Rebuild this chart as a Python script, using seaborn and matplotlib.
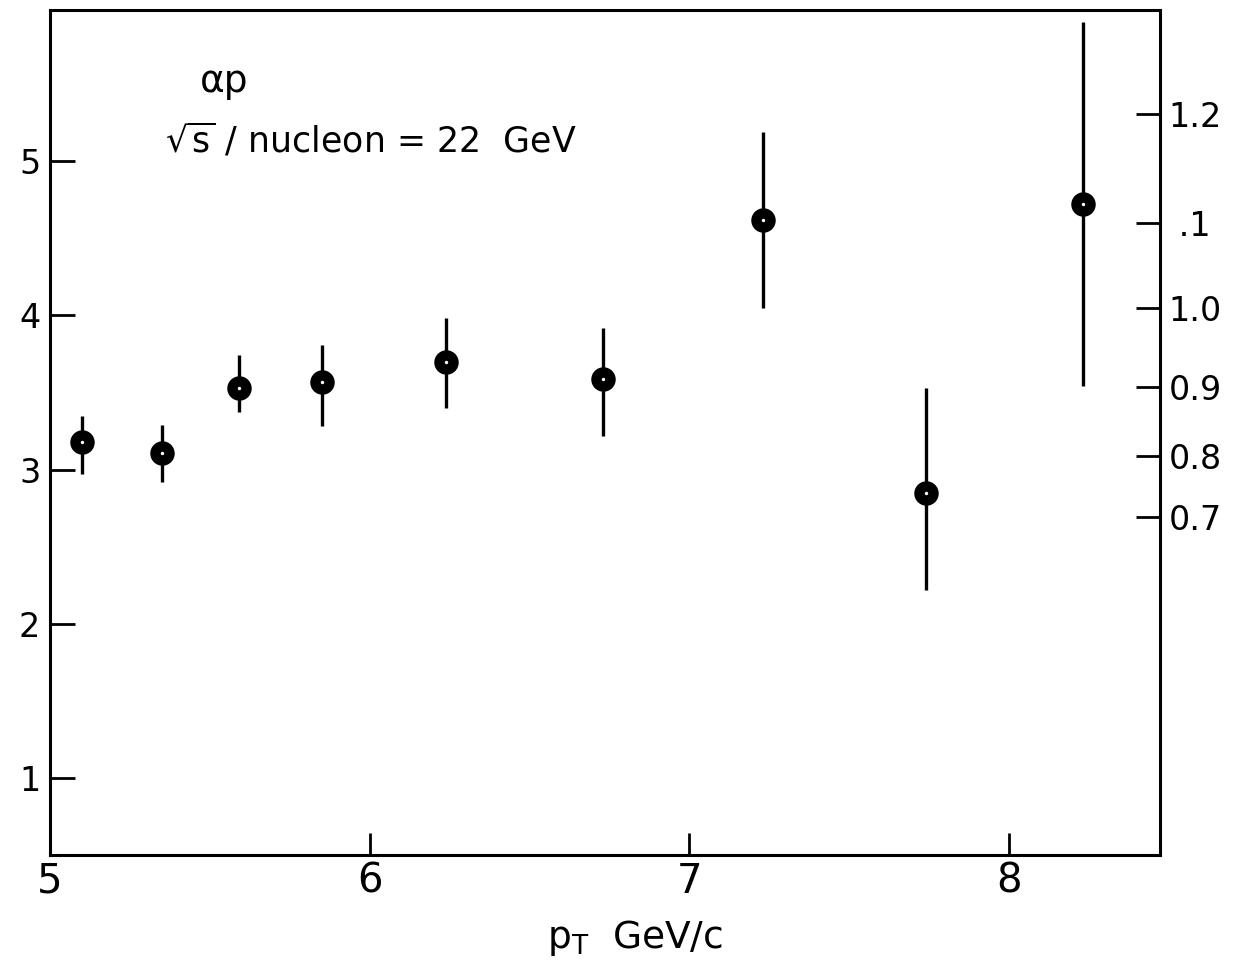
import matplotlib
matplotlib.use("Agg")
import matplotlib.pyplot as plt
import seaborn as sns
import pandas as pd

# ---- data ----
pt = [5.10, 5.35, 5.59, 5.85, 6.24, 6.73, 7.23, 7.74, 8.23]
ratio = [3.18, 3.11, 3.53, 3.57, 3.70, 3.59, 4.62, 2.85, 4.72]
err_hi = [3.35, 3.29, 3.74, 3.81, 3.98, 3.92, 5.19, 3.53, 5.90]
err_lo = [2.97, 2.92, 3.37, 3.28, 3.40, 3.22, 4.05, 2.22, 3.54]

left_ticks = [1, 2, 3, 4, 5]
x_ticks = [5, 6, 7, 8]
right_tick_pos = [2.69, 3.09, 3.535, 4.05, 4.60, 5.305]
right_tick_labels = ["0.7", "0.8", "0.9", "1.0", " .1", "1.2"]

df = pd.DataFrame({"pt": pt, "ratio": ratio, "lo": err_lo, "hi": err_hi})

sns.set_theme(style="ticks")
plt.rcParams["font.family"] = ["DejaVu Sans"]
plt.rcParams["mathtext.fontset"] = "dejavusans"
plt.rcParams["text.color"] = "black"
plt.rcParams["axes.labelcolor"] = "black"
plt.rcParams["xtick.color"] = "black"
plt.rcParams["ytick.color"] = "black"
plt.rcParams["xtick.labelcolor"] = "black"
plt.rcParams["ytick.labelcolor"] = "black"

fig = plt.figure(figsize=(12.4, 9.69), dpi=100)
ax = fig.add_axes([50 / 1240, (969 - 855) / 969, 1110 / 1240, 845 / 969])

ax.vlines(df["pt"], df["lo"], df["hi"], color="black", lw=2.4, zorder=2)
sns.scatterplot(data=df, x="pt", y="ratio", ax=ax, s=310, color="black",
                edgecolor="black", linewidth=0, zorder=3, legend=False)
sns.scatterplot(data=df, x="pt", y="ratio", ax=ax, s=6, color="white",
                edgecolor="white", linewidth=0, zorder=4, legend=False)

ax.set_xlim(5.0, 8.472)
ax.set_ylim(0.5, 5.98)
ax.set_xticks(x_ticks)
ax.set_xticklabels([str(v) for v in x_ticks], fontsize=29)
ax.set_yticks(left_ticks)
ax.set_yticklabels([str(v) for v in left_ticks], fontsize=24)
ax.tick_params(axis="x", direction="in", length=16, width=2, pad=5, top=False)
ax.tick_params(axis="y", direction="in", length=18, width=2, pad=7, right=False)
for s in ax.spines.values():
    s.set_linewidth(2.2)
    s.set_color("black")
    s.set_visible(True)

ax2 = ax.twinx()
ax2.set_ylim(ax.get_ylim())
ax2.set_yticks(right_tick_pos)
ax2.set_yticklabels(right_tick_labels, fontsize=24)
ax2.tick_params(axis="y", direction="in", length=17, width=2, pad=6)
for s in ax2.spines.values():
    s.set_visible(False)

ax.set_xlabel(r"p$_\mathrm{T}$  GeV/c", fontsize=27)
ax.xaxis.set_label_coords((635 - 50) / 1110, -0.075)
ax.set_ylabel("")

ax.text(200 / 1240, (969 - 92) / 969, "αp", transform=fig.transFigure,
        fontsize=27, ha="left", va="baseline")
ax.text(165 / 1240, (969 - 153) / 969, r"$\sqrt{\mathrm{s}}$ / nucleon = 22  GeV",
        transform=fig.transFigure, fontsize=25, ha="left", va="baseline")

fig.savefig("out.png", dpi=100)
